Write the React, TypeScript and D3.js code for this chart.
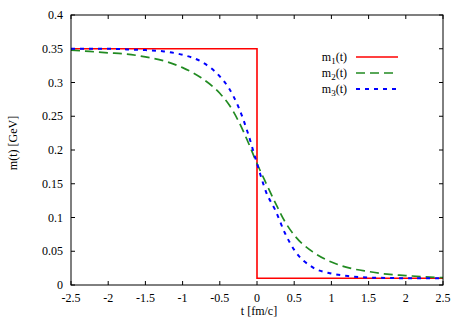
import React from "react";
import * as d3 from "d3";

const T = [-2.5, -2.25, -2, -1.75, -1.5, -1.25, -1, -0.75, -0.5, -0.375, -0.25, -0.125, 0, 0.125, 0.25, 0.375, 0.5, 0.75, 1, 1.25, 1.5, 1.75, 2, 2.25, 2.5];
const m2 = [0.348, 0.346, 0.344, 0.342, 0.338, 0.332, 0.322, 0.307, 0.284, 0.267, 0.243, 0.213, 0.18, 0.15, 0.121, 0.094, 0.074, 0.049, 0.034, 0.025, 0.02, 0.016, 0.014, 0.012, 0.011];
const m3 = [0.35, 0.35, 0.35, 0.349, 0.348, 0.346, 0.341, 0.331, 0.309, 0.291, 0.264, 0.226, 0.18, 0.137, 0.11, 0.077, 0.052, 0.026, 0.017, 0.013, 0.011, 0.0105, 0.01, 0.01, 0.01];
const m1T = [-2.5, 0, 0, 2.5];
const m1 = [0.35, 0.35, 0.01, 0.01];
const xTicks = [-2.5, -2, -1.5, -1, -0.5, 0, 0.5, 1, 1.5, 2, 2.5];
const yTicks = [0, 0.05, 0.1, 0.15, 0.2, 0.25, 0.3, 0.35, 0.4];
const legendLabels = ["1", "2", "3"];

const W = 467, H = 327;
const L = 71, R = 443, TOP = 15, BOT = 285;
const font = "'Liberation Serif', 'Times New Roman', serif";

export default function App() {
  const x = d3.scaleLinear().domain([-2.5, 2.5]).range([L, R]);
  const y = d3.scaleLinear().domain([0, 0.4]).range([BOT, TOP]);
  const line = d3.line<[number, number]>().x(d => x(d[0])).y(d => y(d[1]));
  const smooth = d3.line<[number, number]>().x(d => x(d[0])).y(d => y(d[1])).curve(d3.curveMonotoneX);
  const p1 = line(m1T.map((t, i) => [t, m1[i]] as [number, number]))!;
  const p2 = smooth(T.map((t, i) => [t, m2[i]] as [number, number]))!;
  const p3 = smooth(T.map((t, i) => [t, m3[i]] as [number, number]))!;
  const styles = [
    { color: "#ff0000", dash: "none", w: 1.6 },
    { color: "#228b22", dash: "9,5", w: 1.7 },
    { color: "#0000ff", dash: "4,5", w: 2 },
  ];
  const tl = 4;
  return (
    <svg width={W} height={H} style={{ position: "absolute", left: 0, top: 0 }} fontFamily={font} fontSize={12}>
      <rect x={0} y={0} width={W} height={H} fill="white" />
      <clipPath id="clip"><rect x={L} y={TOP} width={R - L} height={BOT - TOP} /></clipPath>
      {xTicks.map(t => (
        <g key={"x" + t}>
          <line x1={x(t)} x2={x(t)} y1={BOT} y2={BOT - tl} stroke="black" />
          <line x1={x(t)} x2={x(t)} y1={TOP} y2={TOP + tl} stroke="black" />
          <text x={x(t)} y={302} textAnchor="middle">{t}</text>
        </g>
      ))}
      {yTicks.map(v => (
        <g key={"y" + v}>
          <line x1={L} x2={L + tl} y1={y(v)} y2={y(v)} stroke="black" />
          <line x1={R} x2={R - tl} y1={y(v)} y2={y(v)} stroke="black" />
          <text x={63} y={y(v) + 4} textAnchor="end">{v}</text>
        </g>
      ))}
      <g clipPath="url(#clip)">
        <path d={p1} fill="none" stroke={styles[0].color} strokeWidth={styles[0].w} />
        <path d={p2} fill="none" stroke={styles[1].color} strokeWidth={styles[1].w} strokeDasharray={styles[1].dash} />
        <path d={p3} fill="none" stroke={styles[2].color} strokeWidth={styles[2].w} strokeDasharray={styles[2].dash} />
      </g>
      <rect x={L} y={TOP} width={R - L} height={BOT - TOP} fill="none" stroke="black" strokeWidth={1} />
      {legendLabels.map((s, i) => {
        const ly = 57 + i * 16;
        return (
          <g key={s}>
            <text x={347} y={ly + 4} textAnchor="end">m<tspan fontSize={9} dy={3}>{s}</tspan><tspan dy={-3}>(t)</tspan></text>
            <line x1={356} x2={398} y1={ly} y2={ly} stroke={styles[i].color} strokeWidth={styles[i].w} strokeDasharray={styles[i].dash} />
          </g>
        );
      })}
      <text x={259} y={315} textAnchor="middle">t [fm/c]</text>
      <text transform={`translate(17,143) rotate(-90)`} textAnchor="middle">m(t) [GeV]</text>
    </svg>
  );
}
